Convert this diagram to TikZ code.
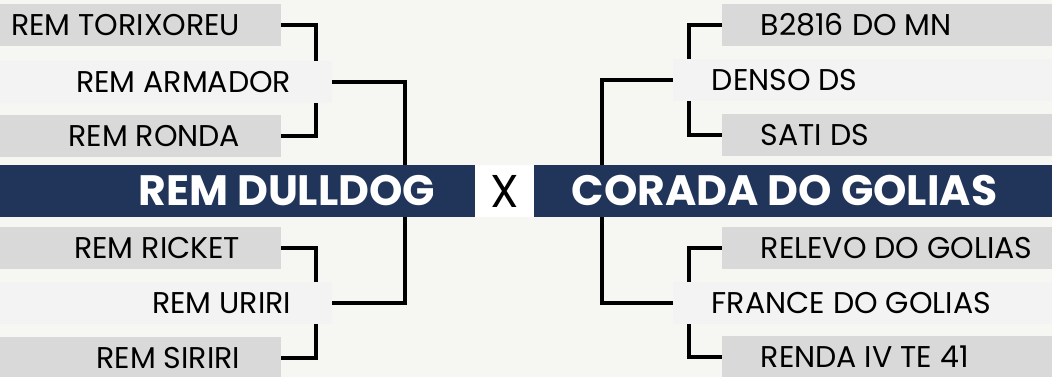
\documentclass[tikz,border=0pt]{standalone}
\usepackage{fontspec}
\setmainfont{Poppins}
\definecolor{bgpaper}{HTML}{F6F6F2}
\definecolor{boxgray}{HTML}{D9D9D9}
\definecolor{boxlight}{HTML}{F3F3F3}
\definecolor{navy}{HTML}{213459}
\begin{document}
\begin{tikzpicture}[x=1pt,y=-1pt,
    team/.style={fill=boxgray,minimum height=42pt,inner sep=0pt},
    seed/.style={team,fill=boxlight},
    lbl/.style={font=\fontsize{30}{32}\selectfont,inner sep=0pt},
    lname/.style={label={[lbl,anchor=east,xshift=-41pt]east:#1}},
    rname/.style={label={[lbl,anchor=west,xshift=39pt]west:#1}},
    club/.style={fill=navy,text=white,minimum height=52pt,inner sep=0pt,
        font=\bfseries\fontsize{42.5}{44}\selectfont},
    link/.style={line width=4pt}]
    \fill[bgpaper] (0,0) rectangle (1052,377);
    \useasboundingbox (0,0) rectangle (1052,377);
    % left side
    \node[team,minimum width=281pt,anchor=west,lname=REM TORIXOREU] (tor) at (0,25) {};
    \node[seed,minimum width=332pt,anchor=west,lname=REM ARMADOR] (arm) at (0,82) {};
    \node[team,minimum width=281pt,anchor=west,lname=REM RONDA] (ron) at (0,136) {};
    \node[team,minimum width=281pt,anchor=west,lname=REM RICKET] (ric) at (0,248) {};
    \node[seed,minimum width=332pt,anchor=west,lname=REM URIRI] (uri) at (0,303) {};
    \node[team,minimum width=281pt,anchor=west,lname=REM SIRIRI] (sir) at (0,358) {};
    \node[club,minimum width=475pt,anchor=west] (bul) at (0,191) {};
    \node[club,anchor=east,fill=none] at ([xshift=-40pt]bul.east) {REM DULLDOG};
    % right side
    \node[team,minimum width=330pt,anchor=east,rname=B2816 DO MN] (bmn) at (1052,25) {};
    \node[seed,minimum width=379pt,anchor=east,rname=DENSO DS] (den) at (1052,80) {};
    \node[team,minimum width=330pt,anchor=east,rname=SATI DS] (sat) at (1052,135) {};
    \node[team,minimum width=330pt,anchor=east,rname=RELEVO DO GOLIAS] (rel) at (1052,248) {};
    \node[seed,minimum width=379pt,anchor=east,rname=FRANCE DO GOLIAS] (fra) at (1052,303) {};
    \node[team,minimum width=330pt,anchor=east,rname=RENDA IV TE 41] (ren) at (1052,357) {};
    \node[club,minimum width=518pt,anchor=east] (gol) at (1052,191) {};
    \node[club,anchor=west,fill=none] at ([xshift=38pt]gol.west) {CORADA DO GOLIAS};
    \node[fill=white,minimum width=59pt,minimum height=52pt,inner sep=0pt,
        font=\fontsize{46}{48}\selectfont] (vs) at (504.5,191) {X};
    % brackets
    \coordinate (lq) at (316,0);
    \coordinate (lt) at (405,0);
    \coordinate (rq) at (689,0);
    \coordinate (rt) at (602,0);
    \draw[link] (tor.east) -| (lq |- arm.north);
    \draw[link] (ron.east) -| (lq |- arm.south);
    \draw[link] (ric.east) -| (lq |- uri.north);
    \draw[link] (sir.east) -| (lq |- uri.south);
    \draw[link] (arm.east) -| (lt |- bul.north);
    \draw[link] (uri.east) -| (lt |- bul.south);
    \draw[link] (bmn.west) -| (rq |- den.north);
    \draw[link] (sat.west) -| (rq |- den.south);
    \draw[link] (rel.west) -| (rq |- fra.north);
    \draw[link] (ren.west) -| (rq |- fra.south);
    \draw[link] (den.west) -| (rt |- gol.north);
    \draw[link] (fra.west) -| (rt |- gol.south);
\end{tikzpicture}
\end{document}
